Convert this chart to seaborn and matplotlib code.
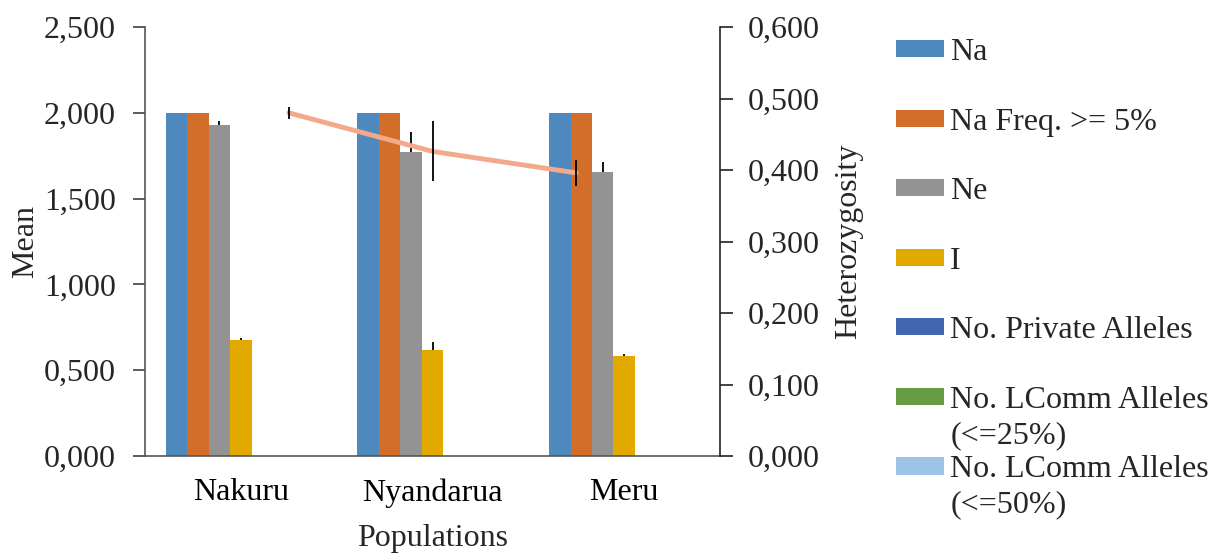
import matplotlib
matplotlib.use("Agg")
import matplotlib.pyplot as plt
from matplotlib.patches import Patch
from matplotlib.ticker import FuncFormatter
import seaborn as sns
import numpy as np
import pandas as pd

# ---------------- data ----------------
populations = ["Nakuru", "Nyandarua", "Meru"]
series = ["Na", "Na Freq. >= 5%", "Ne", "I", "No. Private Alleles",
          "No. LComm Alleles\n(<=25%)", "No. LComm Alleles\n(<=50%)"]
na = [2.000, 2.000, 2.000]
na_freq5 = [2.000, 2.000, 2.000]
ne = [1.926, 1.769, 1.655]
shannon_i = [0.676, 0.616, 0.583]
private_alleles = [0.0, 0.0, 0.0]
lcomm25 = [0.0, 0.0, 0.0]
lcomm50 = [0.0, 0.0, 0.0]
ne_se = [0.025, 0.122, 0.056]
i_se = [0.010, 0.048, 0.012]
heterozygosity = [0.480, 0.426, 0.396]
het_se = [0.008, 0.042, 0.018]
left_ticks = [0.0, 0.5, 1.0, 1.5, 2.0, 2.5]
right_ticks = [0.0, 0.1, 0.2, 0.3, 0.4, 0.5, 0.6]

colors = ["#4E89BE", "#D36E2A", "#939393", "#E2AA00", "#4167B1", "#659B41", "#9DC3E6"]
line_color = "#F4A98A"

values = [na, na_freq5, ne, shannon_i, private_alleles, lcomm25, lcomm50]
df = pd.DataFrame({
    "Population": [p for _ in series for p in populations],
    "Series": [s for s in series for _ in populations],
    "Mean": [v for vals in values for v in vals],
})

# ---------------- figure ----------------
sns.set_theme(style="white")
plt.rcParams["font.family"] = ["Liberation Serif", "DejaVu Serif"]
FS = 23

W, H = 1217, 554
fig = plt.figure(figsize=(W / 100, H / 100), dpi=100)
ax = fig.add_axes([145 / W, (H - 456) / H, (720 - 145) / W, (456 - 27) / H])

sns.barplot(data=df, x="Population", y="Mean", hue="Series", hue_order=series,
            order=populations, palette=colors, width=0.784, saturation=1,
            errorbar=None, legend=False, linewidth=0, ax=ax)

# error bars on Ne and I
for idx, errs in [(2, ne_se), (3, i_se)]:
    bars = ax.containers[idx]
    xs = [b.get_x() + b.get_width() / 2 for b in bars]
    ys = [b.get_height() for b in bars]
    ax.errorbar(xs, ys, yerr=[np.zeros(len(errs)), errs], fmt="none",
                ecolor="black", elinewidth=1.3, capsize=0, zorder=5)

ax.set_xlim(-0.5, 2.5)
ax.set_ylim(0, 2.5)
ax.set_yticks(left_ticks)
ax.yaxis.set_major_formatter(FuncFormatter(lambda v, p: f"{v:.3f}".replace(".", ",")))
ax.set_xticks(range(len(populations)))
ax.set_xticklabels(populations)
ax.set_xticks([-0.5, 0.5, 1.5, 2.5], minor=True)
ax.tick_params(axis="x", which="major", length=0, pad=16, labelsize=FS, colors="black")
ax.tick_params(axis="x", which="minor", length=9, width=1.2, direction="out", color="#404040")
ax.tick_params(axis="y", which="major", length=9, width=1.2, direction="out", pad=12,
               labelsize=FS, color="#404040", left=True)
ax.set_xlabel("Populations", fontsize=FS, labelpad=12)
ax.set_ylabel("Mean", fontsize=FS, labelpad=3)
for s in ["top", "right"]:
    ax.spines[s].set_visible(False)
for s in ["left", "bottom"]:
    ax.spines[s].set_color("#555555")
    ax.spines[s].set_linewidth(1.2)

# secondary axis: heterozygosity (plotted on a 4-slot secondary category axis)
ax2 = ax.twinx()
n_slots = len(populations) + 1
het_pos = -0.5 + (np.arange(len(populations)) + 1) * len(populations) / n_slots
sns.lineplot(x=het_pos, y=heterozygosity, ax=ax2, color=line_color, linewidth=3.5,
             sort=False, zorder=4)
ax2.errorbar(het_pos, heterozygosity, yerr=het_se, fmt="none", ecolor="black",
             elinewidth=1.3, capsize=0, zorder=6)
ax2.set_ylim(0, 0.6)
ax2.set_yticks(right_ticks)
ax2.yaxis.set_major_formatter(FuncFormatter(lambda v, p: f"{v:.3f}".replace(".", ",")))
ax2.tick_params(axis="y", which="major", length=9, width=1.2, direction="out", pad=11,
                labelsize=FS, color="#222222", right=True)
ax2.set_ylabel("Heterozygosity", fontsize=FS, labelpad=10)
for s in ["top", "left", "bottom"]:
    ax2.spines[s].set_visible(False)
ax2.spines["right"].set_color("#222222")
ax2.spines["right"].set_linewidth(1.2)
ax.set_xlim(-0.5, 2.5)

# legend
first_lines = [s.split("\n")[0] for s in series]
handles = [Patch(facecolor=c, edgecolor="none") for c in colors]
leg = fig.legend(handles, first_lines, loc="upper left",
                 bbox_to_anchor=(896 / W, (H - 38) / H), frameon=False,
                 fontsize=FS, handlelength=1.5, handleheight=0.45,
                 handletextpad=0.2, labelspacing=1.27, borderpad=0, borderaxespad=0)

fig.canvas.draw()
renderer = fig.canvas.get_renderer()
for t, full in zip(leg.get_texts(), series):
    parts = full.split("\n")
    if len(parts) > 1:
        bb = t.get_window_extent(renderer)
        fig.text(bb.x0 / W, (bb.y0 + bb.height / 2 - 35) / H, parts[1],
                 fontsize=FS, va="center", ha="left")

fig.savefig("out.png", dpi=100)
